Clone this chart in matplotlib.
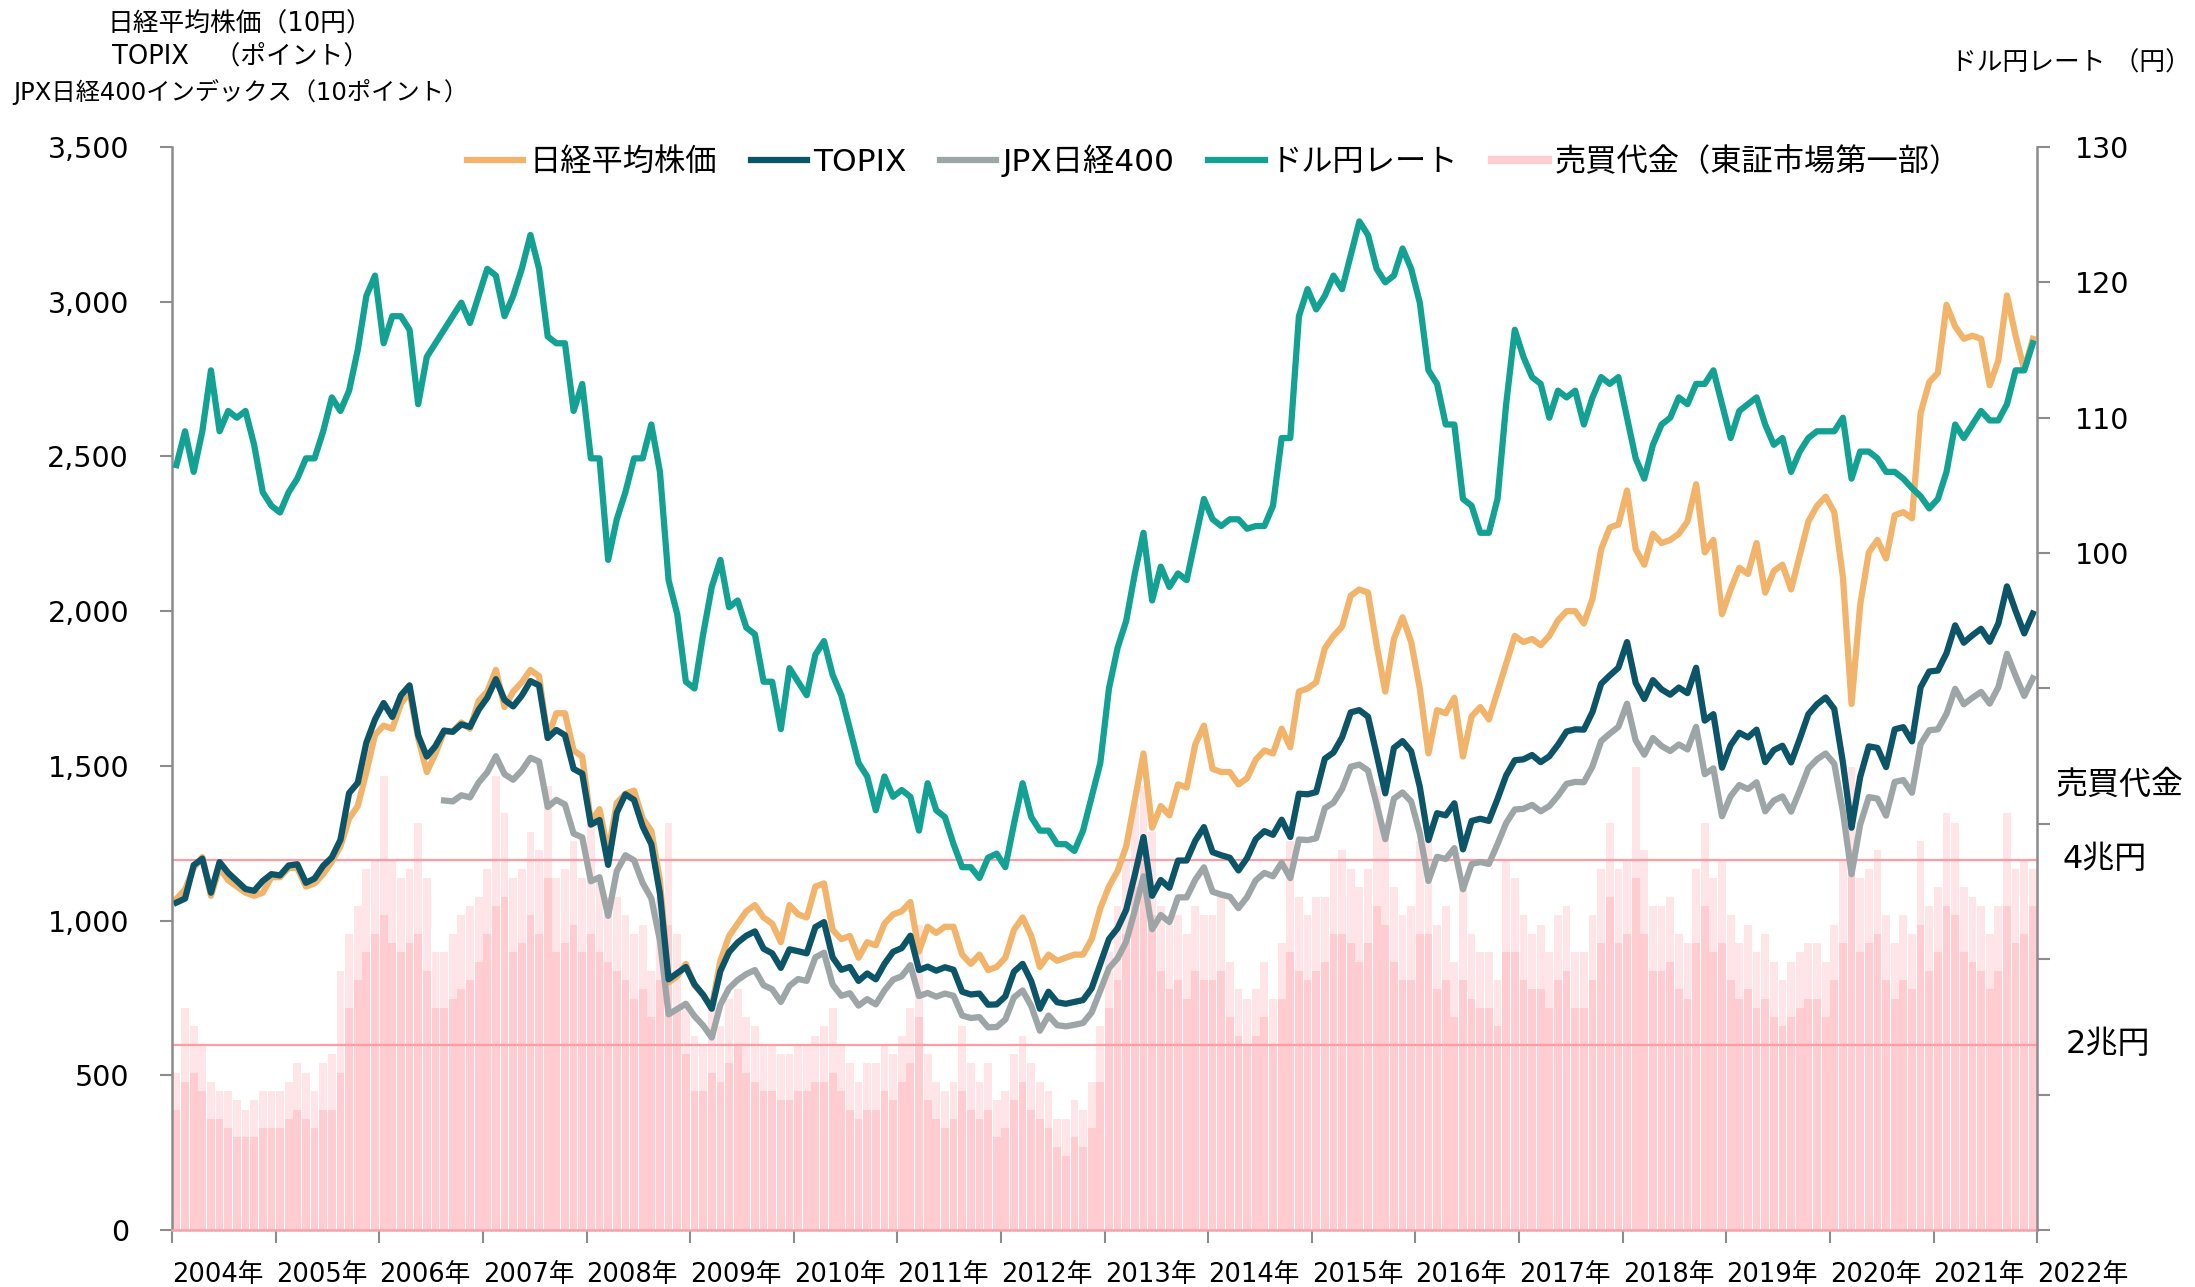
import numpy as np
import matplotlib
matplotlib.use('Agg')
import matplotlib.pyplot as plt
import matplotlib.transforms as mtransforms
from matplotlib.lines import Line2D
from matplotlib.ticker import FuncFormatter

plt.rcParams['font.family'] = ['DejaVu Sans', 'Noto Sans CJK JP']

# 月次の値 (2004年1月〜2021年12月)
years = list(range(2004, 2023))
year_labels = [f'{y}年' for y in years]

# 日経平均株価 (10円)
nikkei = [
    1070, 1100, 1170, 1205, 1080, 1170, 1130, 1110, 1090, 1080, 1090, 1140,
    1140, 1170, 1170, 1110, 1120, 1150, 1190, 1240, 1330, 1370, 1480, 1600,
    1630, 1620, 1700, 1740, 1590, 1480, 1540, 1610, 1610, 1640, 1620, 1710,
    1740, 1810, 1690, 1740, 1770, 1810, 1790, 1590, 1670, 1670, 1550, 1530,
    1320, 1360, 1220, 1380, 1410, 1420, 1330, 1290, 1130, 800, 820, 860,
    790, 760, 720, 870, 950, 990, 1030, 1050, 1010, 990, 930, 1050,
    1020, 1010, 1110, 1120, 970, 940, 950, 880, 930, 920, 990, 1020,
    1030, 1060, 900, 980, 960, 980, 980, 890, 860, 890, 840, 850,
    880, 970, 1010, 950, 850, 890, 870, 880, 890, 890, 940, 1040,
    1110, 1160, 1240, 1390, 1540, 1300, 1370, 1340, 1440, 1430, 1570, 1630,
    1490, 1480, 1480, 1440, 1460, 1520, 1550, 1540, 1620, 1560, 1740, 1750,
    1770, 1880, 1920, 1950, 2050, 2070, 2060, 1890, 1740, 1910, 1980, 1900,
    1750, 1540, 1680, 1670, 1720, 1530, 1660, 1690, 1650, 1740, 1830, 1920,
    1900, 1910, 1890, 1920, 1970, 2000, 2000, 1960, 2040, 2200, 2270, 2280,
    2390, 2200, 2150, 2250, 2220, 2230, 2250, 2290, 2410, 2190, 2230, 1990,
    2070, 2140, 2120, 2220, 2060, 2130, 2150, 2070, 2180, 2290, 2340, 2370,
    2320, 2110, 1700, 2020, 2190, 2230, 2170, 2310, 2320, 2300, 2640, 2740,
    2770, 2990, 2920, 2880, 2890, 2880, 2730, 2810, 3020, 2890, 2780, 2880,
]

# TOPIX (ポイント)
topix = [
    1058, 1071, 1179, 1200, 1090, 1189, 1154, 1128, 1102, 1096, 1128, 1150,
    1146, 1178, 1182, 1122, 1136, 1177, 1204, 1261, 1412, 1445, 1575, 1650,
    1703, 1658, 1728, 1760, 1599, 1530, 1564, 1614, 1610, 1634, 1626, 1681,
    1720, 1780, 1713, 1692, 1727, 1774, 1760, 1590, 1616, 1599, 1490, 1475,
    1310, 1325, 1180, 1349, 1408, 1390, 1304, 1247, 1087, 810, 830, 850,
    794, 760, 715, 837, 898, 929, 951, 965, 909, 894, 847, 907,
    901, 894, 979, 995, 881, 841, 850, 805, 829, 810, 860, 899,
    911, 951, 840, 851, 838, 849, 841, 770, 761, 764, 728, 729,
    755, 835, 860, 804, 715, 770, 736, 731, 737, 743, 781, 860,
    940, 975, 1035, 1148, 1270, 1080, 1131, 1106, 1194, 1194, 1258, 1302,
    1221, 1211, 1203, 1162, 1202, 1263, 1289, 1277, 1326, 1270, 1410, 1408,
    1415, 1523, 1543, 1592, 1673, 1680, 1659, 1537, 1411, 1558, 1580, 1547,
    1432, 1260, 1347, 1340, 1379, 1230, 1322, 1329, 1322, 1393, 1469, 1518,
    1521, 1535, 1512, 1531, 1568, 1611, 1618, 1617, 1674, 1765, 1792, 1817,
    1900, 1768, 1716, 1777, 1747, 1730, 1753, 1735, 1817, 1646, 1667, 1494,
    1567, 1607, 1592, 1617, 1512, 1551, 1565, 1511, 1587, 1667, 1699, 1721,
    1684, 1511, 1300, 1464, 1563, 1558, 1496, 1618, 1625, 1579, 1754, 1805,
    1808, 1864, 1954, 1898, 1922, 1943, 1901, 1960, 2080, 2001, 1928, 1992,
]

# JPX日経400 (10ポイント), 2006年8月から
jpx400 = [np.nan] * 31 + [
    1388, 1385, 1405, 1398, 1446,
    1479, 1531, 1473, 1455, 1485, 1526, 1514, 1367, 1390, 1375, 1281, 1269,
    1127, 1140, 1015, 1160, 1211, 1195, 1121, 1072, 935, 697, 714, 731,
    691, 661, 622, 728, 781, 808, 827, 840, 791, 778, 737, 789,
    811, 805, 881, 896, 793, 757, 765, 725, 746, 729, 774, 809,
    820, 856, 756, 766, 754, 764, 757, 693, 685, 688, 655, 656,
    680, 752, 774, 724, 644, 693, 662, 658, 663, 669, 703, 774,
    846, 878, 932, 1033, 1143, 972, 1018, 995, 1075, 1075, 1132, 1172,
    1093, 1084, 1077, 1040, 1076, 1130, 1154, 1143, 1187, 1137, 1262, 1260,
    1266, 1363, 1381, 1425, 1497, 1504, 1485, 1376, 1263, 1394, 1414, 1385,
    1282, 1128, 1206, 1199, 1234, 1101, 1183, 1189, 1183, 1247, 1315, 1359,
    1361, 1374, 1353, 1370, 1403, 1442, 1448, 1447, 1498, 1580, 1604, 1626,
    1701, 1582, 1536, 1590, 1564, 1548, 1569, 1553, 1626, 1473, 1492, 1337,
    1402, 1438, 1425, 1447, 1353, 1388, 1401, 1352, 1420, 1492, 1521, 1540,
    1507, 1352, 1150, 1310, 1399, 1394, 1339, 1448, 1454, 1413, 1570, 1615,
    1618, 1668, 1749, 1699, 1720, 1739, 1701, 1754, 1862, 1791, 1726, 1783,
]

# ドル円レート (円)
usdjpy = [
    106.5, 109.0, 106.0, 109.0, 113.5, 109.0, 110.5, 110.0, 110.5, 108.0, 104.5, 103.5,
    103.0, 104.5, 105.5, 107.0, 107.0, 109.0, 111.5, 110.5, 112.0, 115.0, 119.0, 120.5,
    115.5, 117.5, 117.5, 116.5, 111.0, 114.5, 115.5, 116.5, 117.5, 118.5, 117.0, 119.0,
    121.0, 120.5, 117.5, 119.0, 121.0, 123.5, 121.0, 116.0, 115.5, 115.5, 110.5, 112.5,
    107.0, 107.0, 99.5, 102.5, 104.5, 107.0, 107.0, 109.5, 106.0, 98.0, 95.5, 90.5,
    90.0, 94.0, 97.5, 99.5, 96.0, 96.5, 94.5, 94.0, 90.5, 90.5, 87.0, 91.5,
    90.5, 89.5, 92.5, 93.5, 91.0, 89.5, 87.0, 84.5, 83.5, 81.0, 83.5, 82.0,
    82.5, 82.0, 79.5, 83.0, 81.0, 80.5, 78.5, 76.8, 76.8, 76.0, 77.5, 77.8,
    76.8, 80.0, 83.0, 80.5, 79.5, 79.5, 78.5, 78.5, 78.0, 79.5, 82.0, 84.5,
    90.0, 93.0, 95.0, 98.5, 101.5, 96.5, 99.0, 97.5, 98.5, 98.0, 101.0, 104.0,
    102.5, 102.0, 102.5, 102.5, 101.8, 102.0, 102.0, 103.5, 108.5, 108.5, 117.5, 119.5,
    118.0, 119.0, 120.5, 119.5, 122.0, 124.5, 123.5, 121.0, 120.0, 120.5, 122.5, 121.0,
    118.5, 113.5, 112.5, 109.5, 109.5, 104.0, 103.5, 101.5, 101.5, 104.0, 111.0, 116.5,
    114.5, 113.0, 112.5, 110.0, 112.0, 111.5, 112.0, 109.5, 111.5, 113.0, 112.5, 113.0,
    110.0, 107.0, 105.5, 108.0, 109.5, 110.0, 111.5, 111.0, 112.5, 112.5, 113.5, 111.0,
    108.5, 110.5, 111.0, 111.5, 109.5, 108.0, 108.5, 106.0, 107.5, 108.5, 109.0, 109.0,
    109.0, 110.0, 105.5, 107.5, 107.5, 107.0, 106.0, 106.0, 105.5, 104.8, 104.2, 103.3,
    104.0, 106.0, 109.5, 108.5, 109.5, 110.5, 109.8, 109.8, 111.0, 113.5, 113.5, 115.5,
]

# 売買代金 (東証市場第一部, 兆円): 月内の標準的な水準と月内の最大
vol_level = [
    1.3, 1.6, 1.7, 1.5, 1.2, 1.2, 1.1, 1.0, 1.0, 1.0, 1.1, 1.1,
    1.1, 1.2, 1.3, 1.2, 1.1, 1.3, 1.3, 1.7, 2.4, 2.7, 3.0, 3.2,
    3.4, 3.1, 3.0, 3.1, 3.2, 2.8, 2.4, 2.4, 2.5, 2.6, 2.7, 2.9,
    3.2, 3.5, 3.6, 3.0, 3.1, 3.4, 3.2, 3.8, 3.0, 3.1, 3.3, 3.0,
    3.2, 3.0, 2.9, 2.8, 2.7, 2.5, 2.6, 2.3, 2.7, 3.3, 2.4, 1.9,
    1.5, 1.5, 1.7, 1.6, 1.8, 2.0, 1.7, 1.6, 1.5, 1.5, 1.4, 1.4,
    1.5, 1.5, 1.6, 1.6, 1.7, 1.5, 1.3, 1.2, 1.3, 1.3, 1.5, 1.4,
    1.6, 1.8, 2.3, 1.4, 1.2, 1.1, 1.2, 1.5, 1.3, 1.2, 1.3, 1.0,
    1.1, 1.4, 1.6, 1.3, 1.2, 1.1, 0.9, 0.8, 1.0, 0.9, 1.1, 1.6,
    2.4, 2.7, 3.2, 3.7, 4.0, 3.4, 2.8, 2.6, 2.7, 2.5, 2.8, 2.7,
    2.7, 2.8, 2.3, 2.1, 2.0, 2.1, 2.3, 2.0, 2.5, 3.0, 2.8, 2.7,
    2.8, 2.9, 3.2, 3.2, 3.1, 2.9, 3.1, 3.5, 3.3, 2.9, 2.7, 2.7,
    3.2, 3.2, 2.6, 2.7, 2.3, 2.7, 2.5, 2.4, 2.4, 2.2, 3.0, 3.0,
    2.7, 2.6, 2.6, 2.4, 2.7, 2.8, 2.4, 2.4, 2.7, 3.1, 3.6, 3.1,
    3.2, 3.8, 3.2, 2.8, 2.8, 2.9, 2.6, 2.5, 3.1, 3.5, 3.0, 3.1,
    2.7, 2.5, 2.6, 2.4, 2.5, 2.3, 2.2, 2.3, 2.4, 2.5, 2.5, 2.3,
    2.7, 3.1, 4.1, 3.0, 3.1, 3.2, 2.7, 2.5, 2.7, 2.6, 3.3, 2.8,
    3.0, 3.5, 3.4, 3.0, 2.9, 2.8, 2.6, 2.8, 3.5, 3.1, 3.2, 3.5,
]
vol_peak = [
    1.7, 2.4, 2.2, 2.0, 1.6, 1.5, 1.5, 1.4, 1.3, 1.4, 1.5, 1.5,
    1.5, 1.6, 1.8, 1.7, 1.5, 1.8, 1.9, 2.8, 3.2, 3.5, 3.9, 4.0,
    4.9, 4.0, 3.8, 3.9, 4.4, 3.8, 3.0, 3.0, 3.2, 3.4, 3.5, 3.6,
    3.9, 4.9, 4.5, 3.8, 3.9, 4.3, 4.1, 4.8, 3.8, 3.9, 4.2, 3.8,
    4.4, 3.8, 3.6, 3.6, 3.4, 3.2, 3.3, 2.8, 3.6, 4.4, 3.2, 2.4,
    2.1, 2.0, 2.4, 2.2, 2.5, 2.6, 2.3, 2.2, 2.0, 2.0, 1.9, 1.9,
    2.0, 2.0, 2.1, 2.2, 2.4, 2.0, 1.8, 1.6, 1.8, 1.8, 2.0, 1.9,
    2.1, 2.4, 3.3, 1.9, 1.6, 1.5, 1.6, 2.2, 1.8, 1.6, 1.8, 1.4,
    1.5, 1.9, 2.1, 1.8, 1.6, 1.5, 1.2, 1.2, 1.4, 1.3, 1.6, 2.2,
    3.0, 3.5, 4.0, 4.6, 4.8, 4.3, 3.5, 3.3, 3.4, 3.2, 3.5, 3.4,
    3.4, 3.6, 2.9, 2.6, 2.5, 2.6, 2.9, 2.5, 3.1, 4.2, 3.6, 3.4,
    3.6, 3.6, 4.0, 4.1, 3.9, 3.7, 3.9, 4.8, 4.3, 3.7, 3.4, 3.5,
    4.2, 4.3, 3.3, 3.5, 2.9, 3.8, 3.2, 3.0, 3.0, 2.7, 4.0, 3.8,
    3.4, 3.2, 3.3, 3.0, 3.4, 3.5, 3.0, 3.0, 3.4, 3.9, 4.4, 3.9,
    4.0, 5.0, 4.1, 3.5, 3.5, 3.6, 3.2, 3.1, 3.9, 4.4, 3.8, 4.0,
    3.4, 3.1, 3.3, 3.0, 3.2, 2.9, 2.7, 2.9, 3.0, 3.1, 3.1, 2.9,
    3.3, 4.0, 5.0, 3.8, 3.9, 4.1, 3.4, 3.1, 3.4, 3.2, 4.2, 3.5,
    3.7, 4.5, 4.4, 3.7, 3.6, 3.5, 3.2, 3.5, 4.5, 3.9, 4.0, 3.9,
]

c_nikkei = '#F2B46A'
c_topix = '#0C5467'
c_jpx = '#9DA5A6'
c_usd = '#13A194'
c_vol = '#FFCCD2'
c_vol_peak = '#FFE5E8'
c_ref = '#FF9BA3'
c_axis = '#8C8C8C'

n = len(nikkei)
x = 2004 + (np.arange(n) + 0.5) / 12

fig = plt.figure(figsize=(21.95, 12.87), dpi=100)
ax = fig.add_axes([0.0784, 0.0443, 0.8497, 0.8415])
axv = ax.twinx()
ax2 = ax.twinx()
axv.set_zorder(0)
ax.set_zorder(1)
ax2.set_zorder(2)
ax.patch.set_visible(False)
ax2.patch.set_visible(False)

# 売買代金
axv.bar(x, vol_peak, width=0.9 / 12, color=c_vol_peak, linewidth=0)
axv.bar(x, vol_level, width=0.9 / 12, color=c_vol, linewidth=0)
axv.axhline(4, color=c_ref, lw=1.6)
axv.axhline(2, color=c_ref, lw=1.6)
axv.set_ylim(0, 11.7)
axv.axis('off')

tr = mtransforms.blended_transform_factory(axv.transAxes, axv.transData)
axv.text(1.0097, 4.8, '売買代金', transform=tr, fontsize=23, va='center', ha='left')
axv.text(1.0134, 4, '4兆円', transform=tr, fontsize=23, va='center', ha='left')
axv.text(1.0150, 2, '2兆円', transform=tr, fontsize=23, va='center', ha='left')

# 株価指数
lw = 4.5
ax.plot(x, nikkei, color=c_nikkei, lw=lw, solid_joinstyle='round')
ax.plot(x, jpx400, color=c_jpx, lw=lw, solid_joinstyle='round')
ax.plot(x, topix, color=c_topix, lw=lw, solid_joinstyle='round')
ax.set_xlim(2004, 2022)
ax.set_ylim(0, 3500)
ax.set_yticks(range(0, 3501, 500))
ax.yaxis.set_major_formatter(FuncFormatter(lambda v, p: f'{int(v):,}'))
ax.set_xticks(years)
ax.set_xticklabels(year_labels, ha='left')
ax.tick_params(axis='y', length=9, width=1.5, color=c_axis, labelsize=20.5, pad=22)
ax.tick_params(axis='x', length=9, width=1.5, color=c_axis, labelsize=18.5, pad=14)
for s in ['top', 'right']:
    ax.spines[s].set_visible(False)
ax.spines['left'].set_color(c_axis)
ax.spines['left'].set_linewidth(1.8)
ax.spines['bottom'].set_color('#F4A3AA')
ax.spines['bottom'].set_linewidth(1.8)

# ドル円
ax2.plot(x, usdjpy, color=c_usd, lw=lw, solid_joinstyle='round')
ax2.set_ylim(50, 130)
ax2.set_yticks(range(50, 131, 10))
ax2.set_yticklabels([str(v) if v >= 100 else '' for v in range(50, 131, 10)])
ax2.tick_params(axis='y', length=9, width=1.5, color=c_axis, labelsize=20.5, pad=18)
for s in ['top', 'left', 'bottom']:
    ax2.spines[s].set_visible(False)
ax2.spines['right'].set_color(c_axis)
ax2.spines['right'].set_linewidth(1.8)

# 凡例
handles = [
    Line2D([], [], color=c_nikkei, lw=4.5),
    Line2D([], [], color=c_topix, lw=4.5),
    Line2D([], [], color=c_jpx, lw=4.5),
    Line2D([], [], color=c_usd, lw=4.5),
    Line2D([], [], color=c_vol, lw=6),
]
labels = ['日経平均株価', 'TOPIX', 'JPX日経400', 'ドル円レート', '売買代金（東証市場第一部）']
fig.legend(handles, labels, loc='center', bbox_to_anchor=(0.553, 0.875), ncol=5,
           frameon=False, fontsize=22.5, handlelength=1.8, handletextpad=0.2,
           columnspacing=1.08)

# 軸タイトル
fig.text(0.1095, 0.9813, '日経平均株価（10円）', fontsize=18.5, ha='center', va='center')
fig.text(0.1095, 0.9557, 'TOPIX　（ポイント）', fontsize=18.5, ha='center', va='center')
fig.text(0.1095, 0.9285, 'JPX日経400インデックス（10ポイント）', fontsize=17.5, ha='center', va='center')
fig.text(0.998, 0.951, 'ドル円レート （円）', fontsize=18.5, ha='right', va='center')

fig.savefig('out.png', dpi=100)
